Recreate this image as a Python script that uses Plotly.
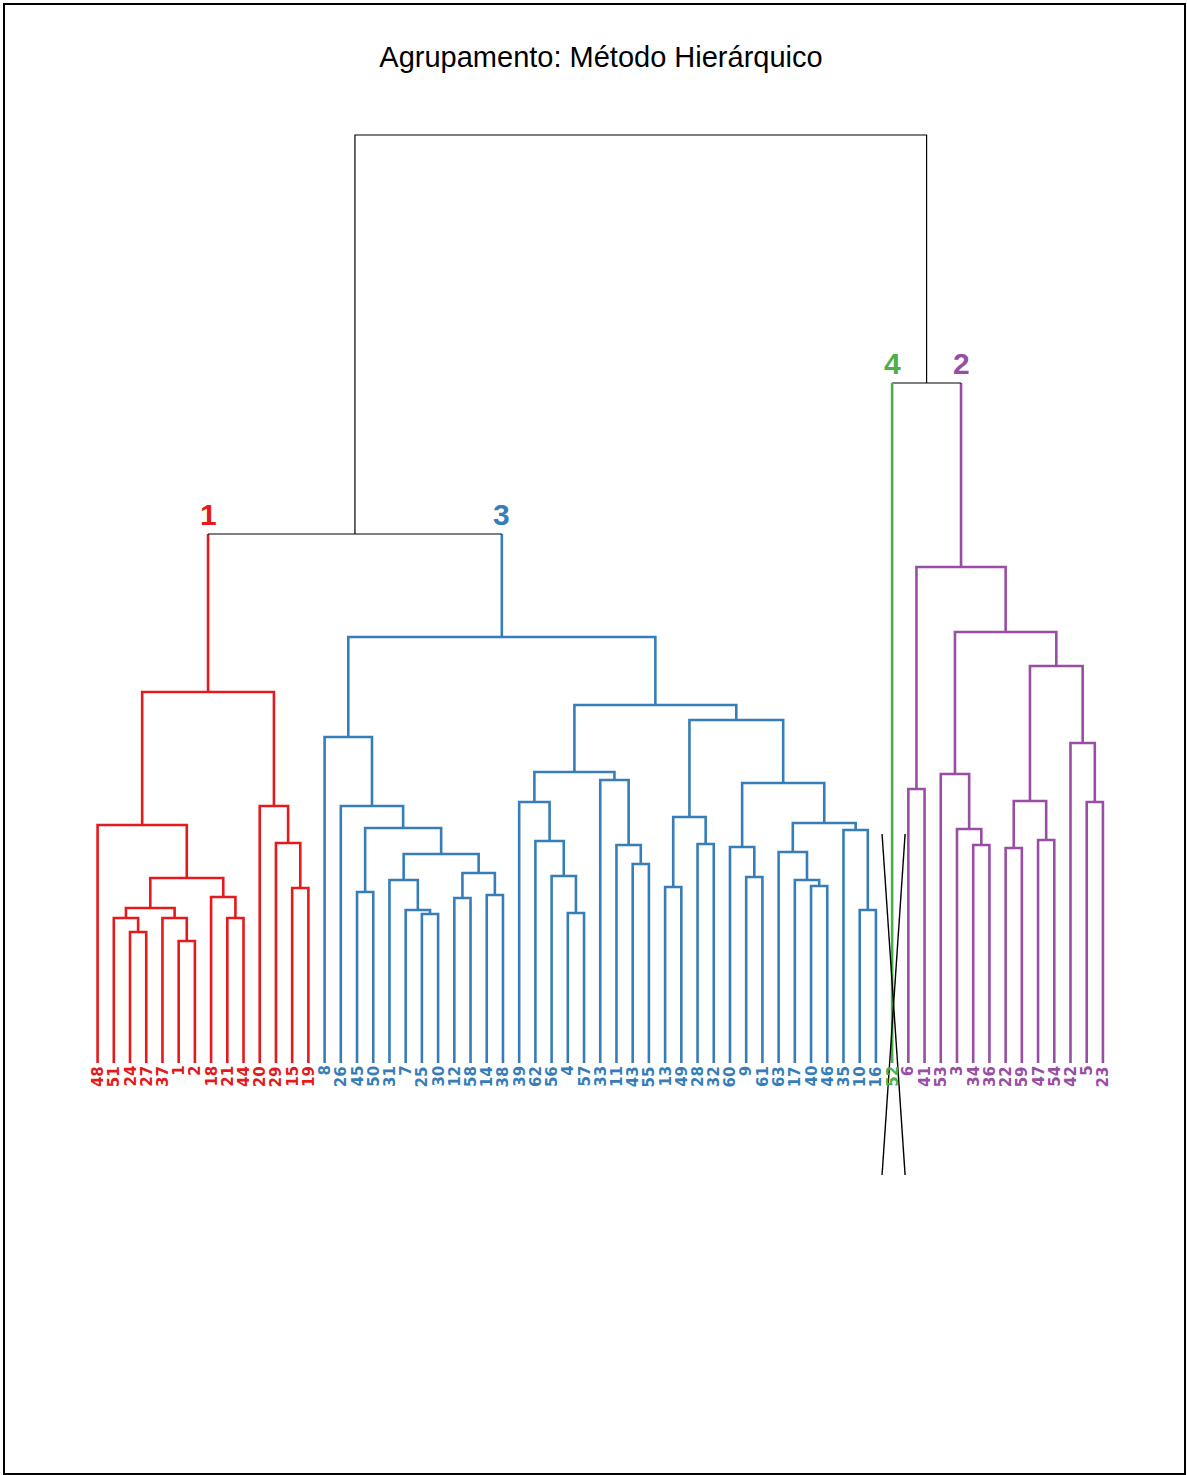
import plotly.graph_objects as go

TITLE = "Agrupamento: Método Hierárquico"

# leaf order along the x axis (left to right)
LEAF_ORDER = [
    "48", "51", "24", "27", "37", "1", "2", "18", "21", "44", "20", "29", "15", "19",
    "8", "26", "45", "50", "31", "7", "25", "30", "12", "58", "14", "38", "39", "62",
    "56", "4", "57", "33", "11", "43", "55", "13", "49", "28", "32", "60", "9", "61",
    "63", "17", "40", "46", "35", "10", "16",
    "52",
    "6", "41", "53", "3", "34", "36", "22", "59", "47", "54", "42", "5", "23",
]

# merges (node id, left child, right child, merge height), bottom-up
MERGES = [
    # cluster 1 (red)
    ("r24_27", "24", "27", 1.31),
    ("r1_2", "1", "2", 1.22),
    ("r51", "51", "r24_27", 1.45),
    ("r37", "37", "r1_2", 1.45),
    ("rA", "r51", "r37", 1.55),
    ("r21_44", "21", "44", 1.45),
    ("r18", "18", "r21_44", 1.66),
    ("rB", "rA", "r18", 1.85),
    ("r48", "48", "rB", 2.38),
    ("r15_19", "15", "19", 1.75),
    ("r29", "29", "r15_19", 2.20),
    ("r20", "20", "r29", 2.57),
    ("C1", "r48", "r20", 3.71),
    # cluster 3 (blue)
    ("b25_30", "25", "30", 1.49),
    ("b7", "7", "b25_30", 1.53),
    ("b31", "31", "b7", 1.83),
    ("b12_58", "12", "58", 1.65),
    ("b14_38", "14", "38", 1.68),
    ("bC", "b12_58", "b14_38", 1.90),
    ("bD", "b31", "bC", 2.09),
    ("b45_50", "45", "50", 1.71),
    ("bE", "b45_50", "bD", 2.35),
    ("b26", "26", "bE", 2.57),
    ("b8", "8", "b26", 3.26),
    ("b4_57", "4", "57", 1.50),
    ("b56", "56", "b4_57", 1.87),
    ("b62", "62", "b56", 2.22),
    ("b39", "39", "b62", 2.61),
    ("b43_55", "43", "55", 1.99),
    ("b11", "11", "b43_55", 2.18),
    ("b33", "33", "b11", 2.83),
    ("bF", "b39", "b33", 2.91),
    ("b13_49", "13", "49", 1.76),
    ("b28_32", "28", "32", 2.19),
    ("bG", "b13_49", "b28_32", 2.46),
    ("b9_61", "9", "61", 1.86),
    ("b60", "60", "b9_61", 2.16),
    ("b40_46", "40", "46", 1.77),
    ("b17", "17", "b40_46", 1.83),
    ("b63", "63", "b17", 2.11),
    ("b10_16", "10", "16", 1.53),
    ("b35", "35", "b10_16", 2.33),
    ("bH", "b63", "b35", 2.40),
    ("bI", "b60", "bH", 2.80),
    ("bJ", "bG", "bI", 3.43),
    ("bK", "bF", "bJ", 3.58),
    ("C3", "b8", "bK", 4.26),
    # cluster 2 (purple)
    ("p6_41", "6", "41", 2.74),
    ("p34_36", "34", "36", 2.18),
    ("p3", "3", "p34_36", 2.34),
    ("p53", "53", "p3", 2.89),
    ("p22_59", "22", "59", 2.15),
    ("p47_54", "47", "54", 2.23),
    ("pL", "p22_59", "p47_54", 2.62),
    ("p5_23", "5", "23", 2.61),
    ("p42", "42", "p5_23", 3.20),
    ("pM", "pL", "p42", 3.97),
    ("pN", "p53", "pM", 4.31),
    ("C2", "p6_41", "pN", 4.96),
    # top of the tree
    ("TL", "C1", "C3", 5.29),
    ("TR", "52", "C2", 6.80),
    ("ROOT", "TL", "TR", 9.28),
]

CLUSTER_ROOTS = ["C1", "C3", "52", "C2"]
CLUSTER_NAMES = ["1", "3", "4", "2"]
CLUSTER_COLORS = ["#E41A1C", "#377EB8", "#4DAF4A", "#984EA3"]

# the hand-drawn "X" over leaf 52
X_MARK_LEAF = "52"
X_MARK_LEFT = 0.62
X_MARK_RIGHT = 0.80
X_MARK_TOP = 2.29
X_MARK_BOTTOM = -1.12

# ---------------------------------------------------------------- geometry
pos = {lab: i + 1 for i, lab in enumerate(LEAF_ORDER)}
hgt = {lab: 0.0 for lab in LEAF_ORDER}
children = {}
parent = {}
for nid, l, r, h in MERGES:
    pos[nid] = (pos[l] + pos[r]) / 2.0
    hgt[nid] = h
    children[nid] = (l, r)
    parent[l] = nid
    parent[r] = nid

color = {}


def paint(node, col):
    color[node] = col
    for c in children.get(node, ()):
        paint(c, col)


for root, col in zip(CLUSTER_ROOTS, CLUSTER_COLORS):
    paint(root, col)


def col_of(n):
    return color.get(n, "black")


segments = {}  # color -> (xs, ys)


def add(col, xs, ys):
    d = segments.setdefault(col, ([], []))
    d[0].extend(xs + [None])
    d[1].extend(ys + [None])


for nid, l, r, h in MERGES:
    cl, cp, cr = col_of(l), col_of(nid), col_of(r)
    if cl == cp == cr:
        add(cp, [pos[l], pos[l], pos[r], pos[r]], [hgt[l], h, h, hgt[r]])
    else:
        add(cl, [pos[l], pos[l]], [hgt[l], h])
        add(cp, [pos[l], pos[r]], [h, h])
        add(cr, [pos[r], pos[r]], [hgt[r], h])

fig = go.Figure()
for col, (xs, ys) in segments.items():
    fig.add_trace(go.Scatter(
        x=xs, y=ys, mode="lines",
        line=dict(color=col, width=1.2 if col == "black" else 2.6),
        hoverinfo="skip", showlegend=False,
    ))

annotations = []
for lab in LEAF_ORDER:
    annotations.append(dict(
        x=pos[lab], y=0, xref="x", yref="y", text="<b>%s</b>" % lab,
        showarrow=False, textangle=-90, xanchor="center", yanchor="top",
        font=dict(family="DejaVu Sans", size=15, color=col_of(lab)),
        yshift=-1,
    ))

for root, name, col in zip(CLUSTER_ROOTS, CLUSTER_NAMES, CLUSTER_COLORS):
    annotations.append(dict(
        x=pos[root], y=hgt[parent[root]], xref="x", yref="y",
        text="<b>%s</b>" % name, showarrow=False,
        xanchor="center", yanchor="middle", yshift=20,
        font=dict(family="Liberation Sans, Arial", size=30, color=col),
    ))

xc = pos[X_MARK_LEAF]
shapes = [
    dict(type="line", xref="x", yref="y",
         x0=xc - X_MARK_LEFT, y0=X_MARK_TOP, x1=xc + X_MARK_RIGHT, y1=X_MARK_BOTTOM,
         line=dict(color="black", width=1.4)),
    dict(type="line", xref="x", yref="y",
         x0=xc + X_MARK_RIGHT, y0=X_MARK_TOP, x1=xc - X_MARK_LEFT, y1=X_MARK_BOTTOM,
         line=dict(color="black", width=1.4)),
]

fig.update_layout(
    width=1187, height=1475,
    margin=dict(l=5, r=1, t=5, b=2),
    paper_bgcolor="white", plot_bgcolor="white",
    title=dict(text=TITLE, x=0.5055, xref="paper", xanchor="center",
               y=1 - 57 / 1475, yref="container", yanchor="middle",
               font=dict(family="Liberation Sans, Arial", size=29, color="black")),
    annotations=annotations, shapes=shapes,
    showlegend=False,
)
axis_common = dict(showgrid=False, zeroline=False, showticklabels=False, ticks="",
                   showline=True, mirror=True, linecolor="black", linewidth=1.5,
                   fixedrange=True)
fig.update_xaxes(range=[-4.71, 68.0], **axis_common)
fig.update_yaxes(range=[-4.10, 10.58], **axis_common)

fig.write_html("out.html")
